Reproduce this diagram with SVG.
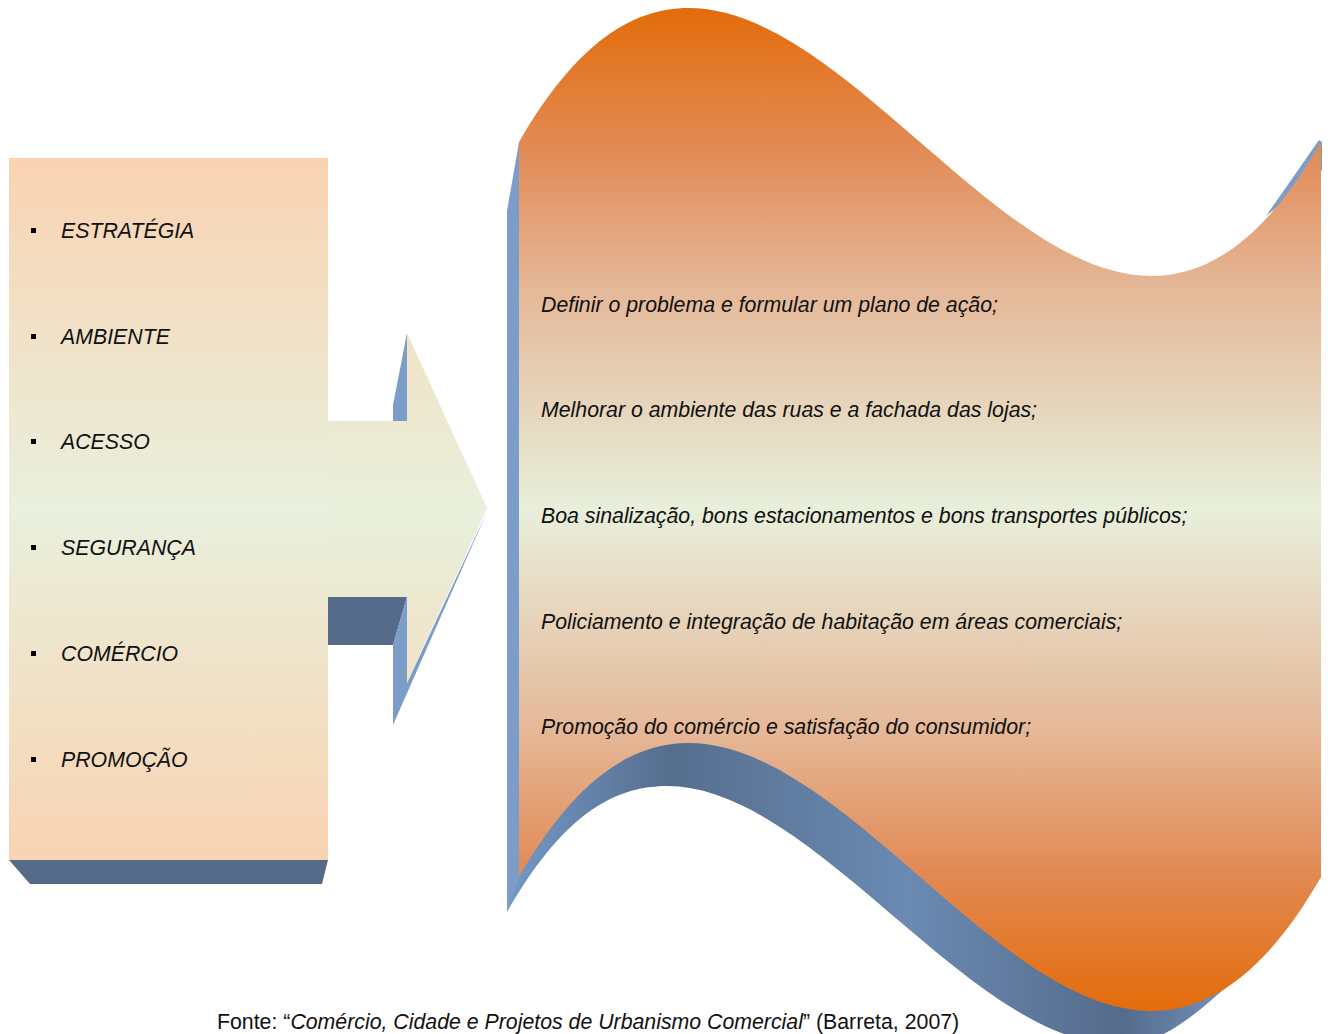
<svg xmlns="http://www.w3.org/2000/svg" width="1328" height="1034" viewBox="0 0 1328 1034">
<defs>
<linearGradient id="boxGrad" gradientUnits="userSpaceOnUse" x1="0" y1="158" x2="0" y2="860">
<stop offset="0" stop-color="#F9D3B2"/>
<stop offset="0.5" stop-color="#E9F0DD"/>
<stop offset="1" stop-color="#F9D3B2"/>
</linearGradient>
<linearGradient id="arrowGrad" gradientUnits="userSpaceOnUse" x1="0" y1="333" x2="0" y2="683">
<stop offset="0" stop-color="#F1E2C6"/>
<stop offset="0.5" stop-color="#E8F0DC"/>
<stop offset="1" stop-color="#F1E2C6"/>
</linearGradient>
<linearGradient id="waveGrad" gradientUnits="userSpaceOnUse" x1="0" y1="8" x2="0" y2="1011">
<stop offset="0" stop-color="#E36C0A"/>
<stop offset="0.14" stop-color="#E28A55"/>
<stop offset="0.28" stop-color="#E5B898"/>
<stop offset="0.5" stop-color="#E8EFDB"/>
<stop offset="0.72" stop-color="#E5B898"/>
<stop offset="0.86" stop-color="#E28A55"/>
<stop offset="1" stop-color="#E36C0A"/>
</linearGradient>
<linearGradient id="shadowGrad" gradientUnits="userSpaceOnUse" x1="507" y1="0" x2="1240" y2="0">
<stop offset="0" stop-color="#7399C6"/>
<stop offset="0.22" stop-color="#566E8E"/>
<stop offset="0.55" stop-color="#6A8AB2"/>
<stop offset="0.84" stop-color="#556B8B"/>
<stop offset="1" stop-color="#7496C2"/>
</linearGradient>
<style>
.side{fill:#7C9DC8}
.dark{fill:#556A89}
.lt{font-family:"Liberation Sans",Arial,sans-serif;font-size:21.3px;font-style:italic;fill:#111}
.cap{font-family:"Liberation Sans",Arial,sans-serif;font-size:21.3px;fill:#111}
.bul{fill:#000}
</style>
</defs>
<rect width="1328" height="1034" fill="#fff"/>

<g id="left-box">
<polygon class="dark" points="9,860 328,860 322,884 30,884"/>
<rect x="9" y="158" width="319" height="702" fill="url(#boxGrad)"/>
<rect class="bul" x="31" y="228" width="5" height="5"/>
<text class="lt" x="61" y="238">ESTRATÉGIA</text>
<rect class="bul" x="31" y="334" width="5" height="5"/>
<text class="lt" x="61" y="344">AMBIENTE</text>
<rect class="bul" x="31" y="439" width="5" height="5"/>
<text class="lt" x="61" y="449">ACESSO</text>
<rect class="bul" x="31" y="545" width="5" height="5"/>
<text class="lt" x="61" y="555">SEGURANÇA</text>
<rect class="bul" x="31" y="651" width="5" height="5"/>
<text class="lt" x="61" y="661">COMÉRCIO</text>
<rect class="bul" x="31" y="757" width="5" height="5"/>
<text class="lt" x="61" y="767">PROMOÇÃO</text>
</g>

<g id="connectors">
<polygon class="side" points="407,333 393,405 393,421 407,421"/>
<polygon class="dark" points="328,597 407,597 393,645 328,645"/>
<polygon class="side" points="407,597 393,645 393,725 487,512 407,683"/>
<polygon fill="url(#arrowGrad)" points="328,421 407,421 407,333 487,508 407,683 407,597 328,597"/>
</g>

<g id="wave">
<path d="M507,912 C560,820 610,786 667,786 C815,786 970,1045 1120,1045 C1165,1045 1200,1010 1240,975 L1321,877 L1321,600 L507,600 Z" fill="url(#shadowGrad)"/>
<polygon class="side" points="519,142 507,211 507,912 519,877"/>
<polygon class="side" points="1266,216 1319,140 1322,142 1322,170"/>
<path d="M519,142 C786,-322 1054,606 1321,142 L1321,877 C1054,1341 786,413 519,877 Z" fill="url(#waveGrad)"/>
<text class="lt" x="541" y="312">Definir o problema e formular um plano de ação;</text>
<text class="lt" x="541" y="417">Melhorar o ambiente das ruas e a fachada das lojas;</text>
<text class="lt" x="541" y="523">Boa sinalização, bons estacionamentos e bons transportes públicos;</text>
<text class="lt" x="541" y="629">Policiamento e integração de habitação em áreas comerciais;</text>
<text class="lt" x="541" y="734">Promoção do comércio e satisfação do consumidor;</text>
</g>

<g id="caption">
<text class="cap" x="217" y="1029">Fonte: “<tspan font-style="italic">Comércio, Cidade e Projetos de Urbanismo Comercial</tspan>” (Barreta, 2007)</text>
</g>
</svg>
